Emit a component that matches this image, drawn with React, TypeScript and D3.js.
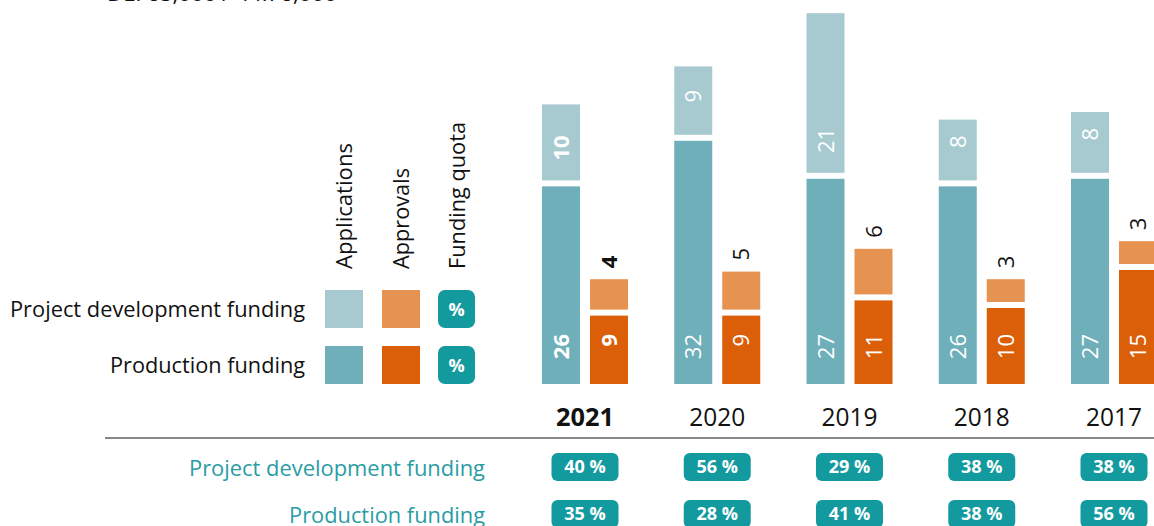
import React from "react";
import * as d3 from "d3";

const years = ["2021", "2020", "2019", "2018", "2017"];
const appsProduction = [26, 32, 27, 26, 27];
const appsProjectDev = [10, 9, 21, 8, 8];
const apprProduction = [9, 9, 11, 10, 15];
const apprProjectDev = [4, 5, 6, 3, 3];
const quotaProjectDev = [40, 56, 29, 38, 38];
const quotaProduction = [35, 28, 41, 38, 56];
const rowLabels = ["Project development funding", "Production funding"];
const legendCols = ["Applications", "Approvals", "Funding quota"];
const topNote = "DE: 65,000 / 44.76,000";

const C = {
  lightTeal: "#a7cad1",
  teal: "#6eafba",
  lightOrange: "#e69250",
  orange: "#db5f08",
  badge: "#139a9f",
  rowText: "#2a9ca5",
};

const FONT = "'Open Sans', 'Noto Sans', sans-serif";

export default function App() {
  const W = 1154, H = 526;
  const base = 384;
  const gap = 6;
  const barW = 38;
  const x = d3.scalePoint<string>().domain(years).range([585, 1114]);
  const y = d3.scaleLinear().domain([0, 50]).range([base, base - 380]);

  const rotLabel = (key: string, cx: number, yy: number, txt: string, fill: string, anchor: string, bold: boolean) => (
    <text
      key={key}
      transform={`translate(${cx + 8},${yy}) rotate(-90)`}
      textAnchor={anchor}
      fontSize={22}
      fontWeight={bold ? 700 : 400}
      fill={fill}
      fontFamily={FONT}
    >
      {txt}
    </text>
  );

  const bars: React.ReactNode[] = [];
  years.forEach((yr, i) => {
    const c = x(yr)!;
    const bold = i === 0;
    const ax = c - 43;
    const p = appsProduction[i];
    const d = appsProjectDev[i];
    bars.push(<rect key={`ap${i}`} x={ax} y={y(p)} width={barW} height={base - y(p)} fill={C.teal} />);
    bars.push(<rect key={`ad${i}`} x={ax} y={y(p + d) - gap} width={barW} height={y(p) - y(p + d)} fill={C.lightTeal} />);
    bars.push(rotLabel(`apl${i}`, ax + barW / 2, base - 50, String(p), "#fff", "end", bold));
    bars.push(rotLabel(`adl${i}`, ax + barW / 2, y(p) - gap - 45, String(d), "#fff", "end", bold));
    const bx = c + 5;
    const p2 = apprProduction[i];
    const d2 = apprProjectDev[i];
    bars.push(<rect key={`bp${i}`} x={bx} y={y(p2)} width={barW} height={base - y(p2)} fill={C.orange} />);
    bars.push(<rect key={`bd${i}`} x={bx} y={y(p2 + d2) - gap} width={barW} height={y(p2) - y(p2 + d2)} fill={C.lightOrange} />);
    bars.push(rotLabel(`bpl${i}`, bx + barW / 2, base - 50, String(p2), "#fff", "end", bold));
    bars.push(rotLabel(`bdl${i}`, bx + barW / 2, y(p2 + d2) - gap - 11, String(d2), "#111", "start", bold));
  });

  const badge = (key: string, cx: number, top: number, w: number, txt: string) => (
    <g key={key}>
      <rect x={cx - w / 2} y={top} width={w} height={28} rx={6} fill={C.badge} />
      <text x={cx} y={top + 20} textAnchor="middle" fontSize={18} fontWeight={700} fill="#fff" fontFamily={FONT}>
        {txt}
      </text>
    </g>
  );

  const headerLens = [126, 101, 147];

  return (
    <svg width={W} height={H} style={{ position: "absolute", left: 0, top: 0, display: "block" }}>
      <rect width={W} height={H} fill="#fff" />
      <text x={107} y={1} fontSize={20} fill="#111" fontFamily={FONT} textLength={230} lengthAdjust="spacingAndGlyphs">
        {topNote}
      </text>

      {legendCols.map((t, i) => (
        <text
          key={t}
          transform={`translate(${352 + i * 56.5},${269}) rotate(-90)`}
          fontSize={21}
          fill="#111"
          fontFamily={FONT}
          textLength={headerLens[i]}
          lengthAdjust="spacingAndGlyphs"
        >
          {t}
        </text>
      ))}
      {rowLabels.map((t, r) => (
        <g key={t}>
          <text
            x={305}
            y={317 + r * 56}
            textAnchor="end"
            fontSize={21}
            fill="#111"
            fontFamily={FONT}
            textLength={r === 0 ? 295 : 195}
            lengthAdjust="spacingAndGlyphs"
          >
            {t}
          </text>
          <rect x={325} y={290 + r * 56} width={38} height={38} fill={r === 0 ? C.lightTeal : C.teal} />
          <rect x={382} y={290 + r * 56} width={38} height={38} fill={r === 0 ? C.lightOrange : C.orange} />
          <rect x={438} y={290 + r * 56} width={37} height={38} rx={7} fill={C.badge} />
          <text x={456.5} y={316 + r * 56} textAnchor="middle" fontSize={18} fontWeight={700} fill="#fff" fontFamily={FONT}>
            %
          </text>
        </g>
      ))}

      {bars}

      {years.map((yr, i) => (
        <text
          key={yr}
          x={x(yr)!}
          y={426}
          textAnchor="middle"
          fontSize={25}
          fontWeight={i === 0 ? 700 : 400}
          fill="#111"
          fontFamily={FONT}
          textLength={i === 0 ? 58 : 56}
          lengthAdjust="spacingAndGlyphs"
        >
          {yr}
        </text>
      ))}

      <line x1={105} x2={W} y1={438} y2={438} stroke="#888" strokeWidth={2} />

      <text x={485} y={476} textAnchor="end" fontSize={22} fill={C.rowText} fontFamily={FONT} textLength={296} lengthAdjust="spacingAndGlyphs">
        {rowLabels[0]}
      </text>
      <text x={485} y={523} textAnchor="end" fontSize={22} fill={C.rowText} fontFamily={FONT} textLength={196} lengthAdjust="spacingAndGlyphs">
        {rowLabels[1]}
      </text>

      {years.map((yr, i) => badge(`q1${i}`, x(yr)!, 453, 67, `${quotaProjectDev[i]} %`))}
      {years.map((yr, i) => badge(`q2${i}`, x(yr)!, 500, 67, `${quotaProduction[i]} %`))}
    </svg>
  );
}
